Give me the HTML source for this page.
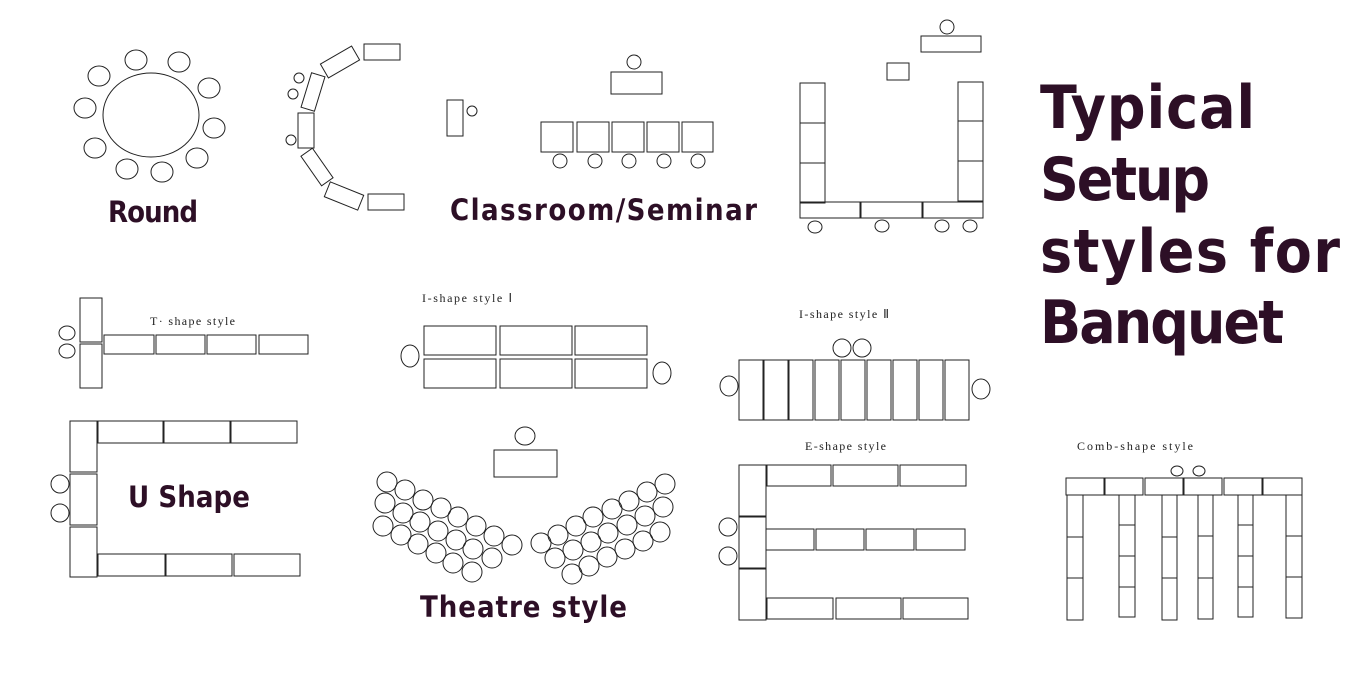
<!DOCTYPE html>
<html><head><meta charset="utf-8"><style>
html,body{margin:0;padding:0;background:#fff;}
svg{display:block;}
.h{font-family:"DejaVu Sans Condensed","Liberation Sans",sans-serif;font-weight:bold;fill:#2d0f26;}
.s{font-family:"Liberation Serif",serif;font-size:12px;fill:#222;}
</style></head><body>
<svg width="1366" height="700" viewBox="0 0 1366 700" xmlns="http://www.w3.org/2000/svg">
<g fill="none" stroke="#222" stroke-width="1">
<ellipse cx="151" cy="115" rx="48" ry="42"/>
<ellipse cx="136" cy="60" rx="11" ry="10"/><ellipse cx="179" cy="62" rx="11" ry="10"/>
<ellipse cx="99" cy="76" rx="11" ry="10"/><ellipse cx="209" cy="88" rx="11" ry="10"/>
<ellipse cx="85" cy="108" rx="11" ry="10"/><ellipse cx="214" cy="128" rx="11" ry="10"/>
<ellipse cx="95" cy="148" rx="11" ry="10"/><ellipse cx="197" cy="158" rx="11" ry="10"/>
<ellipse cx="127" cy="169" rx="11" ry="10"/><ellipse cx="162" cy="172" rx="11" ry="10"/>
<rect x="364" y="44" width="36" height="16"/>
<rect x="322" y="54" width="36" height="16" transform="rotate(-30 340 62)"/>
<rect x="306" y="74" width="14" height="36" transform="rotate(17 313 92)"/>
<rect x="298" y="113" width="16" height="35"/>
<rect x="310" y="149" width="14" height="36" transform="rotate(-35 317 167)"/>
<rect x="326" y="188" width="36" height="16" transform="rotate(22 344 196)"/>
<rect x="368" y="194" width="36" height="16"/>
<circle cx="299" cy="78" r="5"/><circle cx="293" cy="94" r="5"/><circle cx="291" cy="140" r="5"/>
<rect x="447" y="100" width="16" height="36"/><circle cx="472" cy="111" r="5"/>
<rect x="611" y="72" width="51" height="22"/><circle cx="634" cy="62" r="7"/>
<rect x="541" y="122" width="32" height="30"/><rect x="577" y="122" width="32" height="30"/>
<rect x="612" y="122" width="32" height="30"/><rect x="647" y="122" width="32" height="30"/>
<rect x="682" y="122" width="31" height="30"/>
<circle cx="560" cy="161" r="7"/><circle cx="595" cy="161" r="7"/><circle cx="629" cy="161" r="7"/>
<circle cx="664" cy="161" r="7"/><circle cx="698" cy="161" r="7"/>
<rect x="921" y="36" width="60" height="16"/><circle cx="947" cy="27" r="7"/>
<rect x="887" y="63" width="22" height="17"/>
<rect x="800" y="83" width="25" height="40"/><rect x="800" y="123" width="25" height="40"/><rect x="800" y="163" width="25" height="40"/>
<rect x="958" y="82" width="25" height="39"/><rect x="958" y="121" width="25" height="40"/><rect x="958" y="161" width="25" height="40"/>
<rect x="800" y="202" width="60" height="16"/><rect x="861" y="202" width="61" height="16"/><rect x="923" y="202" width="60" height="16"/>
<ellipse cx="815" cy="227" rx="7" ry="6"/><ellipse cx="882" cy="226" rx="7" ry="6"/>
<ellipse cx="942" cy="226" rx="7" ry="6"/><ellipse cx="970" cy="226" rx="7" ry="6"/>
<rect x="80" y="298" width="22" height="44"/><rect x="80" y="344" width="22" height="44"/>
<ellipse cx="67" cy="333" rx="8" ry="7"/><ellipse cx="67" cy="351" rx="8" ry="7"/>
<rect x="104" y="335" width="50" height="19"/><rect x="156" y="335" width="49" height="19"/>
<rect x="207" y="335" width="49" height="19"/><rect x="259" y="335" width="49" height="19"/>
<rect x="424" y="326" width="72" height="29"/><rect x="500" y="326" width="72" height="29"/><rect x="575" y="326" width="72" height="29"/>
<rect x="424" y="359" width="72" height="29"/><rect x="500" y="359" width="72" height="29"/><rect x="575" y="359" width="72" height="29"/>
<ellipse cx="410" cy="356" rx="9" ry="11"/><ellipse cx="662" cy="373" rx="9" ry="11"/>
<circle cx="842" cy="348" r="9"/><circle cx="862" cy="348" r="9"/>
<rect x="739" y="360" width="24" height="60"/><rect x="764" y="360" width="24" height="60"/>
<rect x="789" y="360" width="24" height="60"/><rect x="815" y="360" width="24" height="60"/>
<rect x="841" y="360" width="24" height="60"/><rect x="867" y="360" width="24" height="60"/>
<rect x="893" y="360" width="24" height="60"/><rect x="919" y="360" width="24" height="60"/>
<rect x="945" y="360" width="24" height="60"/>
<ellipse cx="729" cy="386" rx="9" ry="10"/><ellipse cx="981" cy="389" rx="9" ry="10"/>
<rect x="70" y="421" width="27" height="51"/><rect x="70" y="474" width="27" height="51"/><rect x="70" y="527" width="27" height="50"/>
<rect x="98" y="421" width="65" height="22"/><rect x="164" y="421" width="66" height="22"/><rect x="231" y="421" width="66" height="22"/>
<rect x="98" y="554" width="67" height="22"/><rect x="166" y="554" width="66" height="22"/><rect x="234" y="554" width="66" height="22"/>
<ellipse cx="60" cy="484" rx="9" ry="9"/><ellipse cx="60" cy="513" rx="9" ry="9"/>
<ellipse cx="525" cy="436" rx="10" ry="9"/><rect x="494" y="450" width="63" height="27"/>
<g>
<circle cx="387" cy="482" r="10"/><circle cx="405" cy="490" r="10"/><circle cx="423" cy="500" r="10"/><circle cx="441" cy="508" r="10"/>
<circle cx="458" cy="517" r="10"/><circle cx="476" cy="526" r="10"/><circle cx="494" cy="536" r="10"/><circle cx="512" cy="545" r="10"/>
<circle cx="385" cy="503" r="10"/><circle cx="403" cy="513" r="10"/><circle cx="420" cy="522" r="10"/><circle cx="438" cy="531" r="10"/>
<circle cx="456" cy="540" r="10"/><circle cx="473" cy="549" r="10"/><circle cx="492" cy="558" r="10"/>
<circle cx="383" cy="526" r="10"/><circle cx="401" cy="535" r="10"/><circle cx="418" cy="544" r="10"/><circle cx="436" cy="553" r="10"/>
<circle cx="453" cy="563" r="10"/><circle cx="472" cy="572" r="10"/>
<circle cx="665" cy="484" r="10"/><circle cx="647" cy="492" r="10"/><circle cx="629" cy="501" r="10"/><circle cx="612" cy="509" r="10"/>
<circle cx="593" cy="517" r="10"/><circle cx="576" cy="526" r="10"/><circle cx="558" cy="535" r="10"/><circle cx="541" cy="543" r="10"/>
<circle cx="663" cy="507" r="10"/><circle cx="645" cy="516" r="10"/><circle cx="627" cy="525" r="10"/><circle cx="608" cy="533" r="10"/>
<circle cx="591" cy="542" r="10"/><circle cx="573" cy="550" r="10"/><circle cx="555" cy="558" r="10"/>
<circle cx="660" cy="532" r="10"/><circle cx="643" cy="541" r="10"/><circle cx="625" cy="549" r="10"/><circle cx="607" cy="557" r="10"/>
<circle cx="589" cy="566" r="10"/><circle cx="572" cy="574" r="10"/>
</g>
<rect x="739" y="465" width="27" height="51"/><rect x="739" y="517" width="27" height="51"/><rect x="739" y="569" width="27" height="51"/>
<rect x="767" y="465" width="64" height="21"/><rect x="833" y="465" width="65" height="21"/><rect x="900" y="465" width="66" height="21"/>
<rect x="766" y="529" width="48" height="21"/><rect x="816" y="529" width="48" height="21"/><rect x="866" y="529" width="48" height="21"/><rect x="916" y="529" width="49" height="21"/>
<rect x="767" y="598" width="66" height="21"/><rect x="836" y="598" width="65" height="21"/><rect x="903" y="598" width="65" height="21"/>
<circle cx="728" cy="527" r="9"/><circle cx="728" cy="556" r="9"/>
<ellipse cx="1177" cy="471" rx="6" ry="5"/><ellipse cx="1199" cy="471" rx="6" ry="5"/>
<rect x="1066" y="478" width="38" height="17"/><rect x="1105" y="478" width="38" height="17"/><rect x="1145" y="478" width="38" height="17"/>
<rect x="1184" y="478" width="38" height="17"/><rect x="1224" y="478" width="38" height="17"/><rect x="1263" y="478" width="39" height="17"/>
<rect x="1067" y="495" width="16" height="42"/><rect x="1067" y="537" width="16" height="41"/><rect x="1067" y="578" width="16" height="42"/>
<rect x="1119" y="495" width="16" height="30"/><rect x="1119" y="525" width="16" height="31"/><rect x="1119" y="556" width="16" height="31"/><rect x="1119" y="587" width="16" height="30"/>
<rect x="1162" y="495" width="15" height="42"/><rect x="1162" y="537" width="15" height="41"/><rect x="1162" y="578" width="15" height="42"/>
<rect x="1198" y="495" width="15" height="41"/><rect x="1198" y="536" width="15" height="42"/><rect x="1198" y="578" width="15" height="41"/>
<rect x="1238" y="495" width="15" height="30"/><rect x="1238" y="525" width="15" height="31"/><rect x="1238" y="556" width="15" height="31"/><rect x="1238" y="587" width="15" height="30"/>
<rect x="1286" y="495" width="16" height="41"/><rect x="1286" y="536" width="16" height="41"/><rect x="1286" y="577" width="16" height="41"/>
</g>
<text class="h" x="108" y="222" font-size="29" textLength="90" lengthAdjust="spacing">Round</text>
<text class="h" x="450" y="220" font-size="29" textLength="307" lengthAdjust="spacing">Classroom/Seminar</text>
<text class="h" x="128" y="507" font-size="29" textLength="122" lengthAdjust="spacing">U Shape</text>
<text class="h" x="420" y="617" font-size="29" textLength="207" lengthAdjust="spacing">Theatre style</text>
<text class="h" x="1040" y="128" font-size="60" textLength="215" lengthAdjust="spacing">Typical</text>
<text class="h" x="1040" y="200" font-size="60" textLength="170" lengthAdjust="spacing">Setup</text>
<text class="h" x="1040" y="272" font-size="60" textLength="300" lengthAdjust="spacing">styles for</text>
<text class="h" x="1040" y="343" font-size="60" textLength="244" lengthAdjust="spacing">Banquet</text>
<text class="s" x="150" y="325" textLength="85" lengthAdjust="spacing">T· shape  style</text>
<text class="s" x="422" y="302" textLength="90" lengthAdjust="spacing">I-shape  style Ⅰ</text>
<text class="s" x="799" y="318" textLength="90" lengthAdjust="spacing">I-shape  style Ⅱ</text>
<text class="s" x="805" y="450" textLength="81" lengthAdjust="spacing">E-shape  style</text>
<text class="s" x="1077" y="450" textLength="116" lengthAdjust="spacing">Comb-shape  style</text>
</svg>
</body></html>
